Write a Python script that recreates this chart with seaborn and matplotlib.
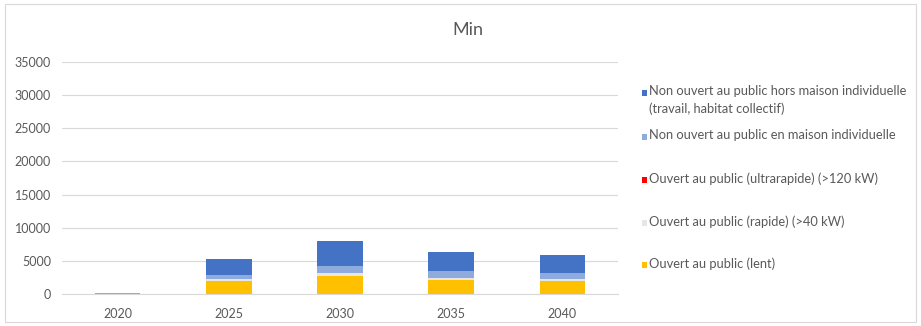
import matplotlib
matplotlib.use("Agg")
import matplotlib.pyplot as plt
from matplotlib.patches import Rectangle
import numpy as np
import seaborn as sns

years = ["2020", "2025", "2030", "2035", "2040"]
lent = [20, 2000, 2700, 2100, 1900]
rapide = [10, 200, 400, 350, 350]
ultrarapide = [0, 0, 0, 0, 0]
individuelle = [50, 650, 1150, 1000, 900]
hors_individuelle = [100, 2500, 3700, 2900, 2750]

series_labels = [
    "Non ouvert au public hors maison individuelle\n(travail, habitat collectif)",
    "Non ouvert au public en maison individuelle",
    "Ouvert au public (ultrarapide) (>120 kW)",
    "Ouvert au public (rapide) (>40 kW)",
    "Ouvert au public (lent)",
]
colors = ["#4472C4", "#8FAADC", "#FF0000", "#E7E6E6", "#FFC000"]
yticks = [0, 5000, 10000, 15000, 20000, 25000, 30000, 35000]

sns.set_theme(style="white")
plt.rcParams["font.family"] = ["Lato", "DejaVu Sans"]
txt = "#595959"

fig = plt.figure(figsize=(9.21, 3.26), dpi=100)
fig.patch.set_facecolor("white")
fig.add_artist(Rectangle((5 / 921, 4 / 326), 911 / 921, 318 / 326, transform=fig.transFigure,
                         fill=False, edgecolor="#D9D9D9", linewidth=0.8))

ax = fig.add_axes([62 / 921, 1 - 294 / 326, (618 - 62) / 921, (294 - 62) / 326])
ax.set_facecolor("white")

# stacked from bottom: lent, rapide, ultrarapide, individuelle, hors
layers = [lent, rapide, ultrarapide, individuelle, hors_individuelle]
layer_colors = [colors[4], colors[3], colors[2], colors[1], colors[0]]
cum = np.cumsum(np.array(layers, dtype=float), axis=0)
for i in range(len(layers) - 1, -1, -1):
    sns.barplot(x=years, y=cum[i], color=layer_colors[i], saturation=1,
                width=0.41, ax=ax, order=years, zorder=3, edgecolor="none", linewidth=0)

ax.set_ylim(0, 35000)
ax.set_yticks(yticks)
ax.set_yticklabels([str(v) for v in yticks])
ax.set_xlim(-0.5, 4.5)
ax.grid(axis="y", color="#D9D9D9", linewidth=0.8, zorder=0)
ax.set_axisbelow(True)
for s in ["top", "right", "left"]:
    ax.spines[s].set_visible(False)
ax.spines["bottom"].set_color("#D9D9D9")
ax.spines["bottom"].set_linewidth(0.8)
ax.tick_params(axis="both", length=0, labelsize=9, labelcolor=txt, pad=8)
ax.tick_params(axis="x", pad=10)
ax.set_xlabel("")
ax.set_ylabel("")

fig.text(468 / 921, 1 - 30 / 326, "Min", ha="center", va="center", fontsize=13, color=txt)

# legend
leg_y = [92.5, 136.7, 179.5, 222.5, 264.5]
for lab, c, y in zip(series_labels, colors, leg_y):
    fig.add_artist(Rectangle((642 / 921, 1 - (y + 3) / 326), 5 / 921, 6 / 326,
                             transform=fig.transFigure, facecolor=c, edgecolor="none"))
    fig.text(649 / 921, 1 - (y - 7.5) / 326, lab, ha="left", va="top", fontsize=9.3,
             color=txt, linespacing=1.55)

fig.savefig("out.png", dpi=100, facecolor="white")
